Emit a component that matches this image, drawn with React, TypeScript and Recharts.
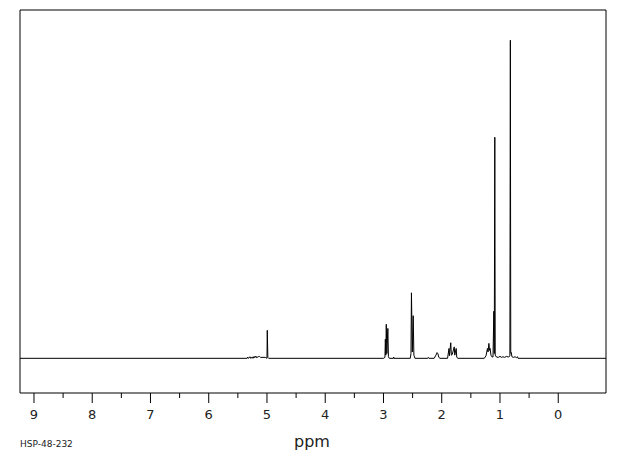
import React from "react";
import { LineChart, Line, XAxis, YAxis, ReferenceArea } from "recharts";

// chemical shift (ppm) and relative intensity (tallest peak = 100)
const shifts: number[] = [
  9.24, 5.34, 5.33, 5.32, 5.29, 5.28, 5.25, 5.24, 5.22, 5.21, 5.19, 5.18, 5.15, 5.13, 5.11, 5.03, 5.0, 4.995, 4.985, 4.97,
  3.0, 2.975, 2.968, 2.96, 2.952, 2.942, 2.925, 2.915, 2.9, 2.83, 2.825, 2.82,
  2.54, 2.528, 2.52, 2.505, 2.49, 2.478, 2.46, 2.24, 2.23, 2.22,
  2.13, 2.1, 2.08, 2.065, 2.05, 2.03,
  1.9, 1.875, 1.868, 1.845, 1.835, 1.82, 1.785, 1.776, 1.752, 1.742, 1.72,
  1.27, 1.24, 1.215, 1.205, 1.19, 1.18, 1.17, 1.155, 1.14, 1.12, 1.105, 1.098, 1.089, 1.082, 1.06,
  1.03, 1.0, 0.97, 0.95, 0.92, 0.89, 0.85, 0.83, 0.822, 0.815, 0.806, 0.795, 0.77, 0.74, 0.72, 0.7, 0.69, -0.82,
];
const intensities: number[] = [
  0, 0, 0.4, 0, 0.5, 0, 0.4, 0, 0.6, 0.2, 0.7, 0.2, 0.5, 0.6, 0.3, 0.3, 0, 8.8, 0.3, 0,
  0, 0.3, 6.0, 1.0, 10.7, 1.5, 9.4, 0.5, 0, 0, 0.4, 0,
  0, 1.5, 20.6, 2.0, 13.4, 1.0, 0, 0, 0.3, 0,
  0, 1.0, 1.8, 1.4, 0.3, 0,
  0, 3.1, 0.8, 4.9, 1.0, 1.2, 3.6, 1.0, 3.1, 0.3, 0,
  0, 0.8, 3.1, 2.0, 4.7, 2.5, 3.1, 1.0, 0.5, 0.4, 14.8, 1.5, 69.5, 1.0, 0.4,
  0.3, 0.6, 0.3, 0.5, 0.3, 0.6, 0.4, 0.8, 100, 1.6, 1.8, 0.5, 0.3, 0.5, 0.2, 0.5, 0, 0,
];
const tickValues: number[] = [0, 0.5, 1, 1.5, 2, 2.5, 3, 3.5, 4, 4.5, 5, 5.5, 6, 6.5, 7, 7.5, 8, 8.5, 9];
const xDomain: [number, number] = [-0.82, 9.24];
const yDomain: [number, number] = [-10.9, 109.5];
const xTitle = "ppm";
const sampleId = "HSP-48-232";

const data = shifts.map((p, i) => ({ ppm: p, intensity: intensities[i] }));

const FONT = "'DejaVu Sans', sans-serif";

const Tick = (props: any) => {
  const { x, y, payload } = props;
  const v = payload.value as number;
  const major = Number.isInteger(v);
  return (
    <g>
      <line x1={x} x2={x} y1={y} y2={y + (major ? 10 : 5)} stroke="#000" strokeWidth={1} />
      {major && (
        <text x={x} y={y + 26} textAnchor="middle" fontFamily={FONT} fontSize={13} fill="#222">
          {v}
        </text>
      )}
    </g>
  );
};

const AxisTitle = () => (
  <g>
    <text x={312} y={447} textAnchor="middle" fontFamily={FONT} fontSize={16} fill="#222">
      {xTitle}
    </text>
    <text x={20} y={447} textAnchor="start" fontFamily={FONT} fontSize={9} fill="#222">
      {sampleId}
    </text>
  </g>
);

export default function App() {
  return (
    <div style={{ position: "absolute", left: 0, top: 0, background: "#fff" }}>
      <LineChart width={620} height={455} data={data} margin={{ top: 10, right: 14, left: 20, bottom: 0 }}>
        <XAxis
          dataKey="ppm"
          type="number"
          domain={xDomain}
          reversed
          allowDataOverflow
          ticks={tickValues}
          interval={0}
          height={62}
          tickSize={0}
          tickMargin={0}
          axisLine={false}
          tickLine={false}
          tick={<Tick />}
          label={<AxisTitle />}
        />
        <YAxis hide type="number" domain={yDomain} allowDataOverflow />
        <ReferenceArea
          x1={xDomain[0]}
          x2={xDomain[1]}
          y1={yDomain[0]}
          y2={yDomain[1]}
          fill="none"
          fillOpacity={0}
          stroke="#000"
          strokeWidth={1}
          ifOverflow="extendDomain"
        />
        <Line
          dataKey="intensity"
          type="linear"
          stroke="#000"
          strokeWidth={1}
          dot={false}
          isAnimationActive={false}
        />
      </LineChart>
    </div>
  );
}
